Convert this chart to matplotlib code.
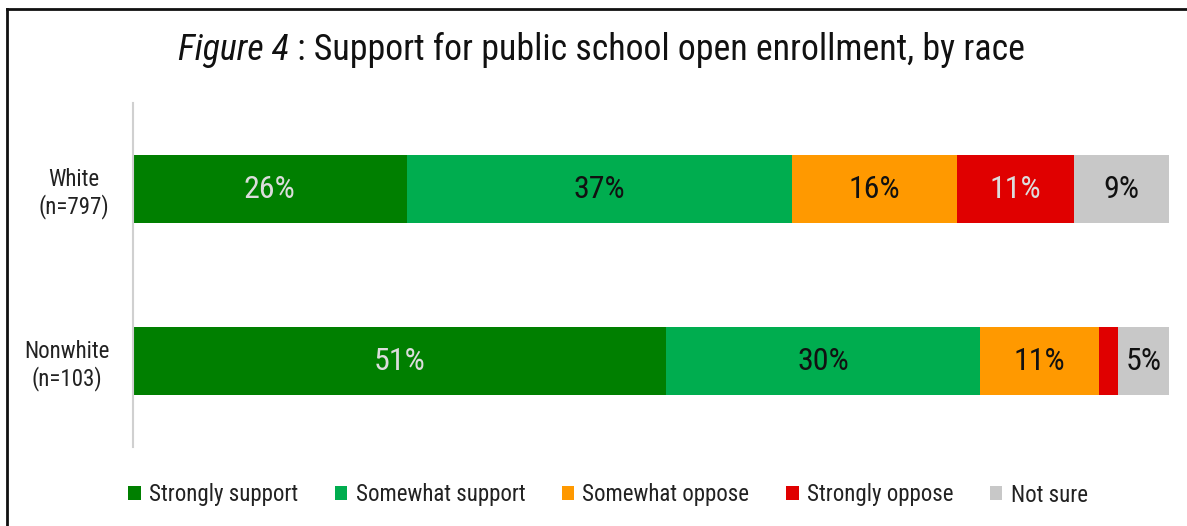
import numpy as np
from matplotlib import pyplot as plt
from matplotlib import font_manager

groups = ["White\n(n=797)", "Nonwhite\n(n=103)"]
categories = ["Strongly support", "Somewhat support", "Somewhat oppose", "Strongly oppose", "Not sure"]
white = [26.4, 37.2, 15.9, 11.3, 9.2]
nonwhite = [51.4, 30.4, 11.4, 1.9, 4.9]
white_labels = ["26%", "37%", "16%", "11%", "9%"]
nonwhite_labels = ["51%", "30%", "11%", "", "5%"]

colors = ["#007f00", "#00ad4f", "#ff9900", "#e00000", "#c8c8c8"]
text_colors = ["#dcdcdc", "#111111", "#111111", "#dcdcdc", "#111111"]

# narrow font if there is one
names = {f.name for f in font_manager.fontManager.ttflist}
fam = "DejaVu Sans"
for cand in ["Roboto Condensed", "Liberation Sans Narrow", "Open Sans Condensed"]:
    if cand in names:
        fam = cand
        break
plt.rcParams['font.family'] = [fam, 'DejaVu Sans']
plt.rcParams['font.stretch'] = 'condensed'

W, H = 1187, 526
fig = plt.figure(figsize=(W / 100, H / 100), dpi=100)
ax = fig.add_axes([133 / W, (H - 447) / H, (1169 - 133) / W, (447 - 103) / H])

data = np.array([white, nonwhite])
labels = [white_labels, nonwhite_labels]
y = np.array([1, 0])
left = np.zeros(2)
for j, cat in enumerate(categories):
    ax.barh(y, data[:, j], left=left, height=0.39, color=colors[j], label=cat)
    for i in range(2):
        if labels[i][j]:
            ax.text(left[i] + data[i, j] / 2, y[i], labels[i][j], ha="center", va="center",
                    fontsize=23, color=text_colors[j])
    left += data[:, j]

ax.set_xlim(0, 100)
ax.set_ylim(-0.5, 1.5)
ax.set_yticks(y)
ax.set_yticklabels(groups, fontsize=16.5, color="#222222", multialignment="center",
                   linespacing=1.15)
ax.tick_params(axis="y", length=0, pad=17)
ax.set_xticks([])
for s in ["top", "right", "bottom"]:
    ax.spines[s].set_visible(False)
ax.spines["left"].set_color("#d0d0d0")
ax.spines["left"].set_linewidth(1.5)

leg = fig.legend(loc="center", bbox_to_anchor=(608 / W, (H - 495) / H), ncol=5, frameon=False,
                 fontsize=16.5, handlelength=0.55, handleheight=0.55, handletextpad=0.35,
                 columnspacing=1.6)
for t in leg.get_texts():
    t.set_color("#222222")

ty = (H - 50) / H
t1 = fig.text(0, ty, "Figure 4", style="italic", fontsize=24, ha="left", va="center", color="#111111")
t2 = fig.text(0, ty, " : Support for public school open enrollment, by race", fontsize=24,
              ha="left", va="center", color="#111111")

# fit title to about 848 px wide, starting at x=178
r = fig.canvas.get_renderer()
w = t1.get_window_extent(r).width + t2.get_window_extent(r).width
size = 24 * 848 / w
t1.set_fontsize(size)
t2.set_fontsize(size)
w1 = t1.get_window_extent(r).width
t1.set_x(178 / W)
t2.set_x((178 + w1) / W)

# frame lines (top and left)
fig.add_artist(plt.Line2D([7 / W, 1], [1 - 9 / H, 1 - 9 / H], color="#111111", lw=2))
fig.add_artist(plt.Line2D([7 / W, 7 / W], [0, 1 - 9 / H], color="#111111", lw=2))

fig.savefig("out.png", dpi=100)
